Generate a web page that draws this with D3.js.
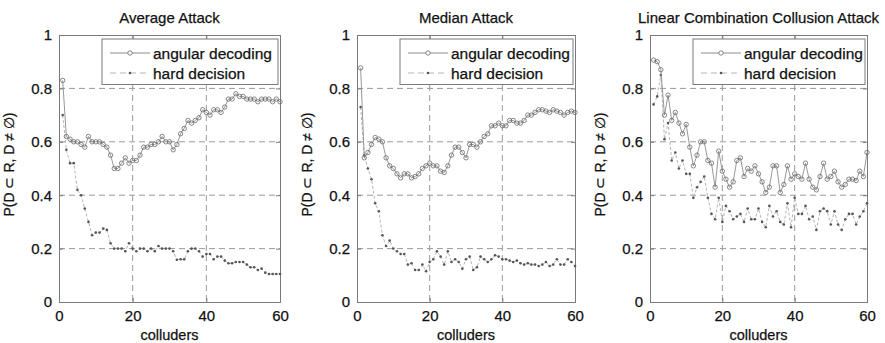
<!DOCTYPE html>
<html>
<head>
<meta charset="utf-8">
<script src="https://cdn.jsdelivr.net/npm/d3@7/dist/d3.min.js"></script>
<style>
  body { margin: 0; background: #fff; }
  text { font-family: "Liberation Sans", Arial, sans-serif; fill: #111; stroke: #111; stroke-width: 0.25px; }
</style>
</head>
<body>
<svg id="fig" width="885" height="343"></svg>
<script>
// colluders 1..60
const colluders = d3.range(1, 61);
const xTicks = [0, 20, 40, 60];
const yTicks = [0, 0.2, 0.4, 0.6, 0.8, 1];
const yTickLabels = ["0", "0.2", "0.4", "0.6", "0.8", "1"];
const titles = ["Average Attack", "Median Attack", "Linear Combination Collusion Attack"];
const seriesNames = ["angular decoding", "hard decision"];

const avgAngular = [0.83, 0.62, 0.61, 0.60, 0.60, 0.59, 0.58, 0.62, 0.60, 0.60,
  0.60, 0.59, 0.58, 0.55, 0.50, 0.50, 0.52, 0.54, 0.52, 0.53,
  0.53, 0.55, 0.58, 0.58, 0.59, 0.59, 0.60, 0.62, 0.60, 0.60,
  0.57, 0.59, 0.63, 0.65, 0.68, 0.67, 0.68, 0.69, 0.72, 0.71,
  0.70, 0.72, 0.72, 0.71, 0.73, 0.76, 0.76, 0.78, 0.77, 0.77,
  0.76, 0.76, 0.76, 0.75, 0.76, 0.76, 0.76, 0.75, 0.76, 0.75];
const avgHard = [0.70, 0.57, 0.52, 0.52, 0.42, 0.40, 0.35, 0.30, 0.25, 0.26,
  0.26, 0.275, 0.27, 0.22, 0.20, 0.20, 0.20, 0.19, 0.22, 0.20,
  0.19, 0.20, 0.20, 0.19, 0.20, 0.19, 0.21, 0.20, 0.20, 0.20,
  0.19, 0.158, 0.16, 0.16, 0.19, 0.20, 0.20, 0.19, 0.17, 0.18,
  0.18, 0.16, 0.17, 0.17, 0.155, 0.145, 0.145, 0.15, 0.15, 0.15,
  0.14, 0.13, 0.13, 0.12, 0.125, 0.11, 0.105, 0.105, 0.105, 0.105];
const medAngular = [0.877, 0.54, 0.56, 0.59, 0.616, 0.61, 0.60, 0.54, 0.51, 0.50,
  0.48, 0.465, 0.48, 0.48, 0.465, 0.47, 0.48, 0.50, 0.51, 0.52,
  0.51, 0.51, 0.49, 0.485, 0.51, 0.55, 0.58, 0.58, 0.56, 0.54,
  0.59, 0.59, 0.58, 0.60, 0.62, 0.63, 0.66, 0.66, 0.67, 0.66,
  0.66, 0.68, 0.68, 0.67, 0.67, 0.68, 0.70, 0.70, 0.71, 0.72,
  0.72, 0.715, 0.71, 0.72, 0.715, 0.71, 0.70, 0.71, 0.715, 0.71];
const medHard = [0.73, 0.55, 0.50, 0.46, 0.37, 0.34, 0.25, 0.21, 0.23, 0.20,
  0.19, 0.18, 0.18, 0.14, 0.145, 0.12, 0.12, 0.14, 0.115, 0.15,
  0.16, 0.19, 0.17, 0.14, 0.19, 0.15, 0.16, 0.15, 0.125, 0.16,
  0.17, 0.12, 0.13, 0.17, 0.16, 0.15, 0.16, 0.175, 0.17, 0.16,
  0.16, 0.155, 0.15, 0.155, 0.145, 0.14, 0.145, 0.14, 0.14, 0.135,
  0.14, 0.15, 0.135, 0.14, 0.16, 0.14, 0.14, 0.16, 0.15, 0.135];
const linAngular = [0.906, 0.90, 0.87, 0.70, 0.775, 0.68, 0.71, 0.67, 0.63, 0.665,
  0.58, 0.51, 0.55, 0.60, 0.60, 0.53, 0.52, 0.43, 0.565, 0.49,
  0.46, 0.43, 0.45, 0.53, 0.54, 0.47, 0.50, 0.49, 0.51, 0.48,
  0.45, 0.41, 0.43, 0.51, 0.51, 0.41, 0.44, 0.51, 0.46, 0.48,
  0.47, 0.46, 0.52, 0.46, 0.43, 0.42, 0.47, 0.52, 0.46, 0.47,
  0.49, 0.45, 0.43, 0.44, 0.46, 0.46, 0.455, 0.49, 0.47, 0.56];
const linHard = [0.74, 0.77, 0.85, 0.61, 0.67, 0.53, 0.56, 0.50, 0.53, 0.48,
  0.48, 0.39, 0.43, 0.45, 0.47, 0.39, 0.33, 0.31, 0.39, 0.30,
  0.36, 0.34, 0.31, 0.32, 0.33, 0.30, 0.35, 0.31, 0.31, 0.35,
  0.30, 0.28, 0.36, 0.32, 0.34, 0.30, 0.29, 0.37, 0.28, 0.39,
  0.33, 0.33, 0.36, 0.31, 0.32, 0.27, 0.34, 0.35, 0.34, 0.29,
  0.34, 0.29, 0.27, 0.31, 0.33, 0.33, 0.29, 0.32, 0.34, 0.37];

const panels = [
  { title: titles[0], angular: avgAngular, hard: avgHard, left: 59, right: 280 },
  { title: titles[1], angular: medAngular, hard: medHard, left: 357, right: 575 },
  { title: titles[2], angular: linAngular, hard: linHard, left: 650, right: 867 }
];

const svg = d3.select("#fig");
const plotTop = 35, plotBottom = 302;

panels.forEach(function (p) {
  const x = d3.scaleLinear().domain([0, 60]).range([p.left, p.right]);
  const y = d3.scaleLinear().domain([0, 1]).range([plotBottom, plotTop]);
  const g = svg.append("g");

  // dashed grid
  g.selectAll(".vg").data(xTicks.slice(1, -1)).enter().append("line")
    .attr("x1", d => x(d)).attr("x2", d => x(d))
    .attr("y1", plotTop).attr("y2", plotBottom)
    .attr("stroke", "#9a9a9a").attr("stroke-dasharray", "6,4");
  g.selectAll(".hg").data(yTicks.slice(1, -1)).enter().append("line")
    .attr("x1", p.left).attr("x2", p.right)
    .attr("y1", d => y(d)).attr("y2", d => y(d))
    .attr("stroke", "#9a9a9a").attr("stroke-dasharray", "6,4");

  // axes, ticks inside
  g.append("g").attr("transform", "translate(0," + plotBottom + ")")
    .call(d3.axisBottom(x).tickValues(xTicks).tickSize(-4).tickPadding(8));
  g.append("g").attr("transform", "translate(0," + plotTop + ")")
    .call(d3.axisTop(x).tickValues(xTicks).tickSize(-4).tickFormat(""));
  g.append("g").attr("transform", "translate(" + p.left + ",0)")
    .call(d3.axisLeft(y).tickValues(yTicks).tickSize(-4).tickPadding(7)
      .tickFormat((d, i) => yTickLabels[i]));
  g.append("g").attr("transform", "translate(" + p.right + ",0)")
    .call(d3.axisRight(y).tickValues(yTicks).tickSize(-4).tickFormat(""));
  g.selectAll(".domain").attr("stroke", "#7a7a7a");
  g.selectAll(".tick line").attr("stroke", "#7a7a7a");
  g.selectAll(".tick text").attr("font-size", "15px").attr("fill", "#111")
    .attr("font-family", "Liberation Sans, Arial, sans-serif");

  // hard decision series
  const line = d3.line().x((d, i) => x(colluders[i])).y(d => y(d));
  g.append("path").datum(p.hard).attr("d", line)
    .attr("fill", "none").attr("stroke", "#b5b5b5").attr("stroke-width", 1)
    .attr("stroke-dasharray", "3,2");
  g.selectAll(".hd").data(p.hard).enter().append("circle")
    .attr("cx", (d, i) => x(colluders[i])).attr("cy", d => y(d))
    .attr("r", 1.3).attr("fill", "#555");

  // angular decoding series
  g.append("path").datum(p.angular).attr("d", line)
    .attr("fill", "none").attr("stroke", "#8c8c8c").attr("stroke-width", 0.9);
  g.selectAll(".ad").data(p.angular).enter().append("circle")
    .attr("cx", (d, i) => x(colluders[i])).attr("cy", d => y(d))
    .attr("r", 2.2).attr("fill", "none").attr("stroke", "#6a6a6a").attr("stroke-width", 0.8);

  // legend
  const lx = p.left + 43, lr = p.right - 2, lt = plotTop + 4, lb = 84.5;
  g.append("rect").attr("x", lx).attr("y", lt).attr("width", lr - lx).attr("height", lb - lt)
    .attr("fill", "#fff").attr("stroke", "#7a7a7a");
  const r1 = lt + 14, r2 = lt + 34;
  g.append("line").attr("x1", lx + 8).attr("x2", lx + 48).attr("y1", r1).attr("y2", r1)
    .attr("stroke", "#8c8c8c");
  g.append("circle").attr("cx", lx + 28).attr("cy", r1).attr("r", 2.2)
    .attr("fill", "#fff").attr("stroke", "#6a6a6a").attr("stroke-width", 0.8);
  g.append("line").attr("x1", lx + 8).attr("x2", lx + 48).attr("y1", r2).attr("y2", r2)
    .attr("stroke", "#b5b5b5").attr("stroke-dasharray", "6,4");
  g.append("circle").attr("cx", lx + 28).attr("cy", r2).attr("r", 1.3).attr("fill", "#555");
  g.append("text").attr("x", lx + 51).attr("y", r1 + 5.5).attr("font-size", "15.5px").text(seriesNames[0]);
  g.append("text").attr("x", lx + 51).attr("y", r2 + 5.5).attr("font-size", "15.5px").text(seriesNames[1]);

  // titles and labels
  const cx = (p.left + p.right) / 2;
  g.append("text").attr("x", cx).attr("y", 23).attr("text-anchor", "middle")
    .attr("font-size", "15px").text(p.title);
  g.append("text").attr("x", cx).attr("y", 340).attr("text-anchor", "middle")
    .attr("font-size", "14.5px").text("colluders");
  g.append("text")
    .attr("transform", "translate(" + (p.left - 45) + "," + ((plotTop + plotBottom) / 2 - 4) + ") rotate(-90)")
    .attr("text-anchor", "middle").attr("font-size", "14px").text("P(D \u2282 R, D \u2260 \u2205)");
});
</script>
</body>
</html>
